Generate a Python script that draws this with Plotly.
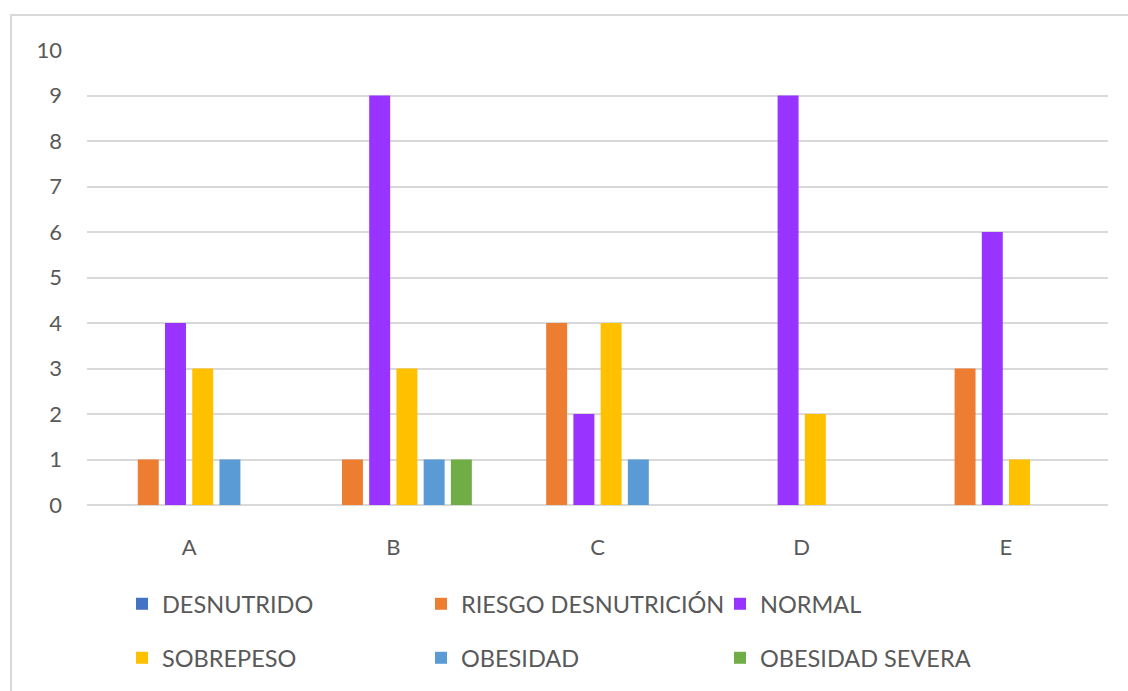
import plotly.graph_objects as go

categories = ["A", "B", "C", "D", "E"]
series_names = ["DESNUTRIDO", "RIESGO DESNUTRICIÓN", "NORMAL", "SOBREPESO", "OBESIDAD", "OBESIDAD SEVERA"]
desnutrido = [0, 0, 0, 0, 0]
riesgo = [1, 1, 4, 0, 3]
normal = [4, 9, 2, 9, 6]
sobrepeso = [3, 3, 4, 2, 1]
obesidad = [1, 1, 1, 0, 0]
obesidad_severa = [0, 1, 0, 0, 0]
colors = ["#4472C4", "#ED7D31", "#9933FF", "#FFC000", "#5B9BD5", "#70AD47"]
y_ticks = list(range(0, 11))

values = [desnutrido, riesgo, normal, sobrepeso, obesidad, obesidad_severa]
FONT = "Lato, Open Sans, sans-serif"
TXT = "#595959"

fig = go.Figure()
for i, (name, vals, col) in enumerate(zip(series_names, values, colors)):
    fig.add_trace(go.Bar(
        x=categories, y=vals, name=name,
        marker=dict(color=col, line=dict(width=0)),
        legend="legend" if i < 3 else "legend2",
    ))

W, H = 1128, 691
L, R, T, B = 87, 20, 50, 185
pw = W - L - R
ph = H - T - B

def px_x(p):
    return (p - L) / pw

def px_y(p):
    return (H - B - p) / ph

legend_common = dict(
    orientation="h", xanchor="left", yanchor="middle",
    entrywidth=254, entrywidthmode="pixels", itemwidth=30,
    font=dict(family=FONT, size=23.5, color=TXT),
    bgcolor="rgba(0,0,0,0)", traceorder="normal",
)

fig.update_layout(
    width=W, height=H,
    margin=dict(l=L, r=R, t=T, b=B),
    paper_bgcolor="white", plot_bgcolor="white",
    barmode="group", bargap=0.2, bargroupgap=0.23,
    font=dict(family=FONT, color=TXT),
    legend=dict(x=px_x(122), y=px_y(604), **legend_common),
    legend2=dict(x=px_x(122), y=px_y(658), **legend_common),
    xaxis=dict(
        showgrid=False, showline=False, ticks="",
        tickfont=dict(family=FONT, size=22, color=TXT),
        ticklabelstandoff=27,
    ),
    yaxis=dict(
        range=[0, 10], tickvals=y_ticks, showgrid=True,
        gridcolor="#D9D9D9", gridwidth=2,
        zeroline=True, zerolinecolor="#D9D9D9", zerolinewidth=2,
        showline=False, ticks="",
        tickfont=dict(family=FONT, size=22, color=TXT),
        ticklabelstandoff=24,
    ),
    shapes=[dict(
        type="rect", xref="paper", yref="paper",
        x0=px_x(11), x1=px_x(1135), y0=px_y(15), y1=px_y(700),
        line=dict(color="#D9D9D9", width=2), fillcolor="rgba(0,0,0,0)",
        layer="below",
    )],
)

fig.write_html("out.html")
